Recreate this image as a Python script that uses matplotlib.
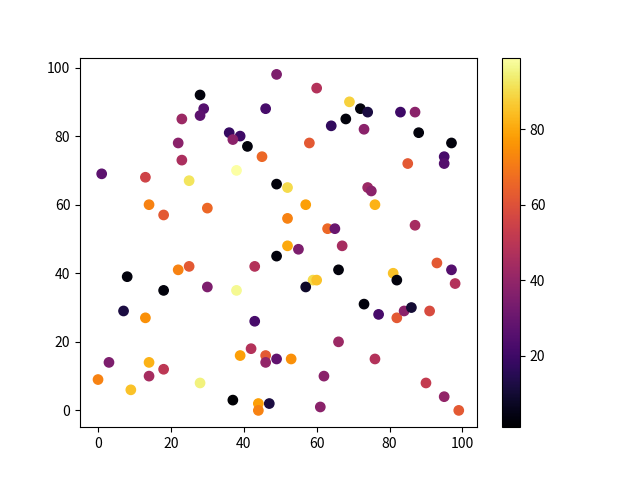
import matplotlib
matplotlib.use('Agg')
import matplotlib.pyplot as plt

plt.rcParams['font.family'] = ['Noto Sans CJK SC', 'DejaVu Sans']

x = [49, 28, 29, 28, 23, 46, 36, 39, 37, 41, 22, 23, 45, 1, 13, 25, 38, 49, 14, 18, 30,
     60, 69, 72, 74, 68, 64, 73, 83, 87, 88, 97, 95, 95, 85, 58, 52, 74, 75, 57, 76, 52, 63, 65, 87,
     49, 8, 22, 25, 43, 18, 30, 38, 7, 13, 43, 42, 39, 46, 46, 49, 3, 14, 14, 18, 0, 9, 28, 37, 44, 44, 47,
     52, 55, 67, 66, 59, 60, 57, 81, 82, 93, 97, 98, 73, 77, 82, 84, 86, 91, 66, 53, 76, 62, 61, 90, 95, 99]
y = [98, 92, 88, 86, 85, 88, 81, 80, 79, 77, 78, 73, 74, 69, 68, 67, 70, 66, 60, 57, 59,
     94, 90, 88, 87, 85, 83, 82, 87, 87, 81, 78, 74, 72, 72, 78, 65, 65, 64, 60, 60, 56, 53, 53, 54,
     45, 39, 41, 42, 42, 35, 36, 35, 29, 27, 26, 18, 16, 16, 14, 15, 14, 14, 10, 12, 9, 6, 8, 3, 2, 0, 2,
     48, 47, 48, 41, 38, 38, 36, 40, 38, 43, 41, 37, 31, 28, 27, 29, 30, 29, 20, 15, 15, 10, 1, 8, 4, 0]
colors = [35, 3, 25, 27, 42, 22, 18, 20, 38, 3, 38, 46, 66, 27, 55, 92, 99, 3, 72, 62, 66,
          48, 88, 3, 12, 3, 17, 38, 20, 38, 3, 3, 22, 25, 62, 62, 90, 42, 38, 78, 82, 72, 66, 30, 45,
          3, 3, 72, 62, 48, 3, 35, 97, 12, 75, 22, 48, 78, 62, 40, 28, 35, 82, 45, 50, 72, 85, 95, 1, 78, 72, 12,
          80, 35, 45, 3, 90, 85, 8, 85, 3, 62, 25, 48, 3, 22, 62, 38, 10, 58, 42, 75, 48, 38, 38, 52, 40, 62]

fig = plt.figure(figsize=(6.4, 4.8), dpi=100)
plt.scatter(x, y, c=colors, cmap='inferno', s=45)
plt.colorbar()
plt.savefig('out.png')
